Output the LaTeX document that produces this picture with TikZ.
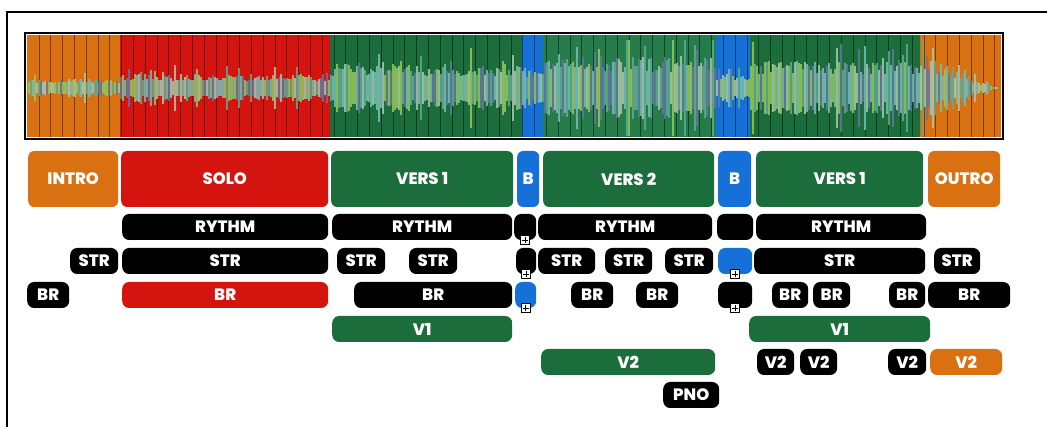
\documentclass[tikz,border=0pt]{standalone}
\usepackage{fontspec}
\setmainfont{Poppins}[BoldFont={Poppins ExtraBold}]
\definecolor{cOrange}{RGB}{217,112,18}
\definecolor{cRed}{RGB}{212,21,15}
\definecolor{cGreen}{RGB}{27,110,59}
\definecolor{cGreenB}{RGB}{38,124,74}
\definecolor{cBlue}{RGB}{21,112,216}
\definecolor{wv1}{RGB}{96,170,150}
\definecolor{wv2}{RGB}{150,200,90}
\definecolor{wv3}{RGB}{100,120,160}
\definecolor{wv4}{RGB}{120,190,180}
\definecolor{wv5}{RGB}{170,200,170}
\tikzset{
  part/.style={rounded corners=6pt, anchor=west, inner sep=0pt,
               minimum height=56pt, text=white,
               font=\bfseries\fontsize{16.5}{16.5}\selectfont},
  track/.style={part, rounded corners=7pt, minimum height=26pt, fill=black},
  addbox/.style={draw=black, fill=white, line width=0.7pt, inner sep=0pt,
                 minimum size=9pt,
                 path picture={
                   \draw[line width=0.7pt] ([yshift=-1.5pt]path picture bounding box.north)
                     -- ([yshift=1.5pt]path picture bounding box.south);
                   \draw[line width=0.7pt] ([xshift=1.5pt]path picture bounding box.west)
                     -- ([xshift=-1.5pt]path picture bounding box.east);
                 }}
}
\begin{document}
\begin{tikzpicture}[x=1pt, y=-1pt]
    \useasboundingbox (0,0) rectangle (1047,427);
    % frame
    \draw[line width=2pt] (7,427) -- (7,12) -- (1047,12);

    % waveform panel
    \fill[cOrange] (27,35) rectangle (120,137);
    \fill[cRed]    (120,35) rectangle (330,137);
    \fill[cGreen]  (330,35) rectangle (522,137);
    \fill[cBlue]   (522,35) rectangle (543,137);
    \fill[cGreenB] (543,35) rectangle (716,137);
    \fill[cBlue]   (716,35) rectangle (750,137);
    \fill[cGreen]  (750,35) rectangle (920,137);
    \fill[cOrange] (920,35) rectangle (1001,137);
    \foreach \x in {39,50.8,...,1000}
        \draw[black, opacity=0.45, line width=0.8pt] (\x,35) -- (\x,137);
    \pgfmathsetseed{42}
    \foreach \x in {28,30,...,996} {
        \pgfmathsetmacro\env{\x<120 ? 9 : (\x<330 ? 14 : (\x<522 ? 24 :
            (\x<543 ? 20 : (\x<716 ? 32 : (\x<750 ? 14 : (\x<920 ? 27 :
            max(1,0.45*(995-\x))))))))}
        \pgfmathsetmacro\amp{min(48,\env*(0.5+0.5*rnd)*(rnd>0.85 ? 1.7 : 1))}
        \pgfmathrandominteger\c{1}{5}
        \fill[wv\c, opacity=0.85] (\x,88-\amp) rectangle (\x+2,88+\amp);
    }
    \draw[line width=2.5pt] (25,33) rectangle (1003,139);

    % sections
    \node[part, fill=cOrange, minimum width=90pt]  (intro) at (28,179)  {INTRO};
    \node[part, fill=cRed,    minimum width=207pt] (solo)  at (121,179) {SOLO};
    \node[part, fill=cGreen,  minimum width=182pt] (versa) at (331,179) {VERS 1};
    \node[part, fill=cBlue,   minimum width=22pt]  (ba)    at (517,179) {B};
    \node[part, fill=cGreen,  minimum width=171pt] (versb) at (543,179) {VERS 2};
    \node[part, fill=cBlue,   minimum width=33pt]  (bb)    at (718,179) {B};
    \node[part, fill=cGreen,  minimum width=167pt] (versc) at (756,179) {VERS 1};
    \node[part, fill=cOrange, minimum width=72pt]  (outro) at (928,179) {OUTRO};

    % rythm
    \node[track, minimum width=206pt] (ry1) at (122,227) {RYTHM};
    \node[track, minimum width=180pt] (ry2) at (332,227) {RYTHM};
    \node[track, minimum width=22pt]  (ry3) at (514,227) {};
    \node[track, minimum width=174pt] (ry4) at (538,227) {RYTHM};
    \node[track, minimum width=36pt]  (ry5) at (717,227) {};
    \node[track, minimum width=170pt] (ry6) at (756,227) {RYTHM};

    % strings
    \node[track, minimum width=48pt]  (st1)  at (70,261)  {STR};
    \node[track, minimum width=206pt] (st2)  at (122,261) {STR};
    \node[track, minimum width=48pt]  (st3)  at (337,261) {STR};
    \node[track, minimum width=48pt]  (st4)  at (409,261) {STR};
    \node[track, minimum width=20pt]  (st5)  at (516,261) {};
    \node[track, minimum width=57pt]  (st6)  at (538,261) {STR};
    \node[track, minimum width=47pt]  (st7)  at (605,261) {STR};
    \node[track, minimum width=48pt]  (st8)  at (665,261) {STR};
    \node[track, fill=cBlue, minimum width=34pt] (st9) at (718,261) {};
    \node[track, minimum width=171pt] (st10) at (754,261) {STR};
    \node[track, minimum width=46pt]  (st11) at (934,261) {STR};

    % brass
    \node[track, minimum width=42pt]  (br1)  at (27,295)  {BR};
    \node[track, fill=cRed, minimum width=206pt] (br2) at (122,295) {BR};
    \node[track, minimum width=158pt] (br3)  at (354,295) {BR};
    \node[track, fill=cBlue, minimum width=21pt] (br4) at (515,295) {};
    \node[track, minimum width=42pt]  (br5)  at (571,295) {BR};
    \node[track, minimum width=42pt]  (br6)  at (636,295) {BR};
    \node[track, minimum width=34pt]  (br7)  at (718,295) {};
    \node[track, minimum width=36pt]  (br8)  at (772,295) {BR};
    \node[track, minimum width=37pt]  (br9)  at (813,295) {BR};
    \node[track, minimum width=36pt]  (br10) at (889,295) {BR};
    \node[track, minimum width=82pt]  (br11) at (928,295) {BR};

    % voices
    \node[track, fill=cGreen, minimum width=180pt] (v1a) at (332,329) {V1};
    \node[track, fill=cGreen, minimum width=181pt] (v1b) at (749,329) {V1};
    \node[track, fill=cGreen, minimum width=174pt] (v2a) at (541,362) {V2};
    \node[track, minimum width=37pt] (v2b) at (757,362) {V2};
    \node[track, minimum width=37pt] (v2c) at (800,362) {V2};
    \node[track, minimum width=38pt] (v2d) at (888,362) {V2};
    \node[track, fill=cOrange, minimum width=72pt] (v2e) at (930,362) {V2};

    % piano
    \node[track, minimum width=56pt] (pno) at (663,395) {PNO};

    % add buttons
    \node[addbox] (add1) at (ry3.south) {};
    \node[addbox] (add2) at (st5.south) {};
    \node[addbox] (add3) at (br4.south) {};
    \node[addbox] (add4) at (st9.south) {};
    \node[addbox] (add5) at (br7.south) {};
\end{tikzpicture}
\end{document}
